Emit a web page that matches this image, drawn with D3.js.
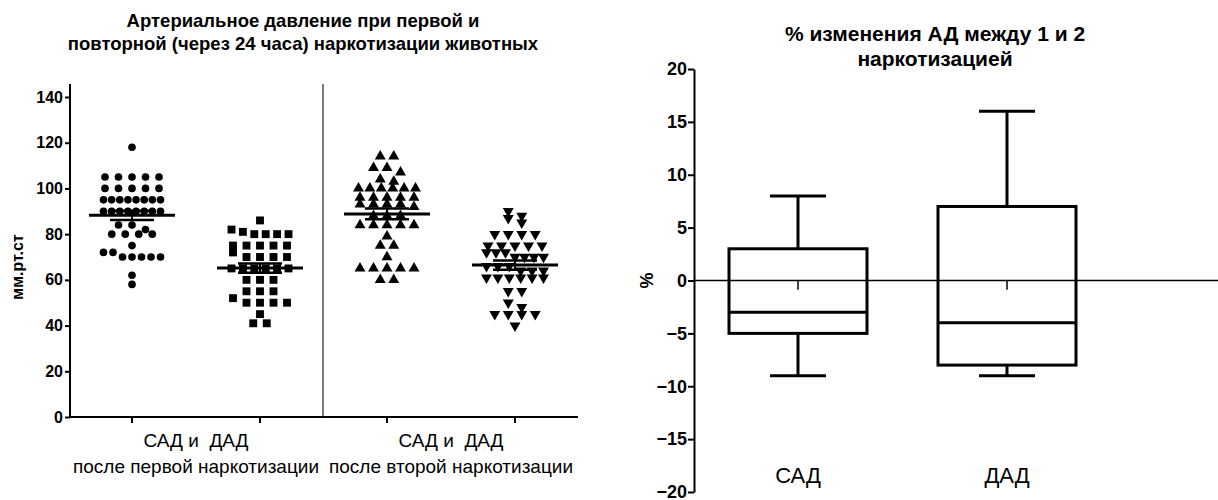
<!DOCTYPE html>
<html>
<head>
<meta charset="utf-8">
<script src="https://cdn.jsdelivr.net/npm/d3@7"></script>
<style>
  body { margin: 0; background: #fff; }
  svg { font-family: "Liberation Sans", Arial, sans-serif; }
</style>
</head>
<body>
<svg width="1218" height="500"></svg>
<script>
// scatter data, mm Hg
const sad1 = [118, 105, 105, 105, 105, 105, 100, 100, 100, 100, 100,
  95, 95, 95, 95, 95, 95, 95, 95, 90, 90, 90, 90, 90, 90, 90, 90,
  84, 84, 82, 80, 80, 80, 80, 75, 72, 72, 70, 70, 70, 70, 70, 62, 58];
const dad1 = [86, 82, 81, 80, 80, 80, 80, 75, 75, 75, 75, 75, 72, 70, 70, 70, 70,
  65, 65, 65, 65, 65, 65, 60, 60, 60, 55, 55, 55, 52, 50, 50, 50, 50, 45, 41, 41];
const sad2 = [114, 114, 109, 109, 107, 104, 103, 100, 100, 100, 100, 100, 100,
  96, 96, 96, 96, 96, 93, 93, 93, 93, 92, 88, 88, 88, 84, 84, 84, 84, 84,
  79, 75, 75, 70, 65, 65, 65, 65, 65, 60, 60];
const dad2 = [90, 88, 87, 85, 80, 80, 80, 80, 75, 75, 75, 75, 75, 72, 72, 72,
  70, 70, 70, 70, 66, 66, 66, 64, 64, 64, 61, 61, 61, 61, 61, 61,
  55, 55, 50, 48, 45, 45, 45, 45, 40];
const groups = [sad1, dad1, sad2, dad2];
const shapes = [d3.symbolCircle, d3.symbolSquare, d3.symbolTriangle, "down"];
const leftTicks = [0, 20, 40, 60, 80, 100, 120, 140];
const leftLabels = [["САД и  ДАД", "после первой наркотизации"],
                    ["САД и  ДАД", "после второй наркотизации"]];

// box plot data, %
const boxCats = ["САД", "ДАД"];
const boxMin = [-9, -9];
const boxQ1 = [-5, -8];
const boxMed = [-3, -4];
const boxQ3 = [3, 7];
const boxMax = [8, 16];
const boxMean = [-0.4, -0.4];
const rightTicks = [-20, -15, -10, -5, 0, 5, 10, 15, 20];

const svg = d3.select("svg");

// ---------- left chart ----------
const y1 = d3.scaleLinear().domain([0, 140]).range([417, 97]);
const xPos = [132, 260, 387, 515];   // group centres along the axis

const left = svg.append("g");
left.append("g")
  .attr("transform", "translate(70,0)")
  .call(d3.axisLeft(y1).tickValues(leftTicks).tickSize(5).tickPadding(2).tickSizeOuter(0))
  .call(g => g.select(".domain").remove())
  .call(g => g.selectAll("line").attr("stroke-width", 2))
  .call(g => g.selectAll("text").attr("font-size", 16).attr("font-weight", "bold").attr("fill", "#000"));
left.append("line").attr("x1", 70).attr("x2", 70).attr("y1", 84).attr("y2", 418)
  .attr("stroke", "#000").attr("stroke-width", 2);
left.append("line").attr("x1", 69).attr("x2", 578).attr("y1", y1(0)).attr("y2", y1(0))
  .attr("stroke", "#000").attr("stroke-width", 2);
left.append("line").attr("x1", 323).attr("x2", 323).attr("y1", 84).attr("y2", y1(0))
  .attr("stroke", "#222").attr("stroke-width", 1.2);
xPos.forEach(x => {
  left.append("line").attr("x1", x).attr("x2", x).attr("y1", y1(0)).attr("y2", y1(0) + 6)
    .attr("stroke", "#000").attr("stroke-width", 2);
});

left.append("text").attr("transform", "translate(23,267) rotate(-90)")
  .attr("text-anchor", "middle").attr("font-size", 16).attr("font-weight", "bold").text("мм.рт.ст");

leftLabels.forEach((lab, i) => {
  const cx = (xPos[i * 2] + xPos[i * 2 + 1]) / 2;
  left.append("text").attr("x", cx).attr("y", 447).attr("text-anchor", "middle")
    .style("white-space", "pre").attr("font-size", 19).text(lab[0]);
  left.append("text").attr("x", cx).attr("y", 473).attr("text-anchor", "middle")
    .attr("font-size", 19).text(lab[1]);
});

const title1 = ["Артериальное давление при первой и", "повторной (через 24 часа) наркотизации животных"];
title1.forEach((t, i) => {
  svg.append("text").attr("x", 303).attr("y", 27 + i * 23).attr("text-anchor", "middle")
    .attr("font-size", 18.5).attr("font-weight", "bold").text(t);
});

// arrange points in rows the way the dot plot does
function arrange(vals, cx) {
  const sorted = vals.slice().sort((a, b) => b - a);
  const rows = [];
  sorted.forEach(v => {
    const r = rows[rows.length - 1];
    if (r && r[0] - v <= 2.5) r.push(v); else rows.push([v]);
  });
  const pts = [];
  rows.forEach(r => {
    const n = r.length;
    const step = n > 1 ? Math.min(13.5, 57 / (n - 1)) : 0;
    r.forEach((v, j) => pts.push({ x: cx + (j - (n - 1) / 2) * step, y: y1(v) }));
  });
  return pts;
}

groups.forEach((vals, gi) => {
  const cx = xPos[gi];
  const pts = arrange(vals, cx);
  const shp = shapes[gi];
  const sym = d3.symbol().type(shp === "down" ? d3.symbolTriangle : shp)
    .size(gi === 0 ? 46 : gi === 1 ? 62 : 52);
  left.append("g").selectAll("path").data(pts).join("path")
    .attr("d", sym)
    .attr("transform", d => `translate(${d.x},${d.y})` + (shp === "down" ? " rotate(180)" : ""))
    .attr("fill", "#000");

  const m = d3.mean(vals);
  const sem = d3.deviation(vals) / Math.sqrt(vals.length);
  left.append("line").attr("x1", cx - 43).attr("x2", cx + 43).attr("y1", y1(m)).attr("y2", y1(m))
    .attr("stroke", "#000").attr("stroke-width", 3);
  [m - sem, m + sem].forEach(v => {
    left.append("line").attr("x1", cx - 22).attr("x2", cx + 22).attr("y1", y1(v)).attr("y2", y1(v))
      .attr("stroke", "#000").attr("stroke-width", 2.5);
  });
  left.append("line").attr("x1", cx).attr("x2", cx).attr("y1", y1(m - sem)).attr("y2", y1(m + sem))
    .attr("stroke", "#000").attr("stroke-width", 2);
});

// ---------- right chart ----------
const y2 = d3.scaleLinear().domain([-20, 20]).range([492, 69]);
const x2 = d3.scalePoint().domain(boxCats).range([798, 1007]);
const boxW = 138;

const right = svg.append("g");
right.append("g")
  .attr("transform", "translate(694,0)")
  .call(d3.axisLeft(y2).tickValues(rightTicks).tickSize(6).tickPadding(1).tickSizeOuter(0))
  .call(g => g.select(".domain").attr("stroke-width", 2))
  .call(g => g.selectAll("line").attr("stroke-width", 2))
  .call(g => g.selectAll("text").attr("font-size", 18).attr("font-weight", "bold").attr("fill", "#000"));
right.append("line").attr("x1", 694).attr("x2", 1218).attr("y1", y2(0)).attr("y2", y2(0))
  .attr("stroke", "#000").attr("stroke-width", 1.5);

right.append("text").attr("transform", `translate(653,${y2(0)}) rotate(-90)`)
  .attr("text-anchor", "middle").attr("font-size", 18).attr("font-weight", "bold").text("%");

const title2 = ["% изменения АД между 1 и 2", "наркотизацией"];
title2.forEach((t, i) => {
  svg.append("text").attr("x", 935).attr("y", 41 + i * 25).attr("text-anchor", "middle")
    .attr("font-size", 21).attr("font-weight", "bold").text(t);
});

boxCats.forEach((c, i) => {
  const cx = x2(c), bx = cx - boxW / 2;
  const g = right.append("g").attr("stroke", "#000").attr("stroke-width", 3).attr("fill", "none");
  g.append("line").attr("x1", cx).attr("x2", cx).attr("y1", y2(boxMax[i])).attr("y2", y2(boxQ3[i]));
  g.append("line").attr("x1", cx).attr("x2", cx).attr("y1", y2(boxQ1[i])).attr("y2", y2(boxMin[i]));
  g.append("line").attr("x1", cx - 28).attr("x2", cx + 28).attr("y1", y2(boxMax[i])).attr("y2", y2(boxMax[i]));
  g.append("line").attr("x1", cx - 28).attr("x2", cx + 28).attr("y1", y2(boxMin[i])).attr("y2", y2(boxMin[i]));
  g.append("rect").attr("x", bx).attr("width", boxW)
    .attr("y", y2(boxQ3[i])).attr("height", y2(boxQ1[i]) - y2(boxQ3[i]));
  g.append("line").attr("x1", bx).attr("x2", bx + boxW).attr("y1", y2(boxMed[i])).attr("y2", y2(boxMed[i]));
  // mean marker
  g.append("line").attr("stroke-width", 1.5).attr("x1", cx).attr("x2", cx)
    .attr("y1", y2(boxMean[i]) - 4).attr("y2", y2(boxMean[i]) + 5);
  right.append("text").attr("x", cx).attr("y", 483).attr("text-anchor", "middle")
    .attr("font-size", 22).text(c);
});
</script>
</body>
</html>
